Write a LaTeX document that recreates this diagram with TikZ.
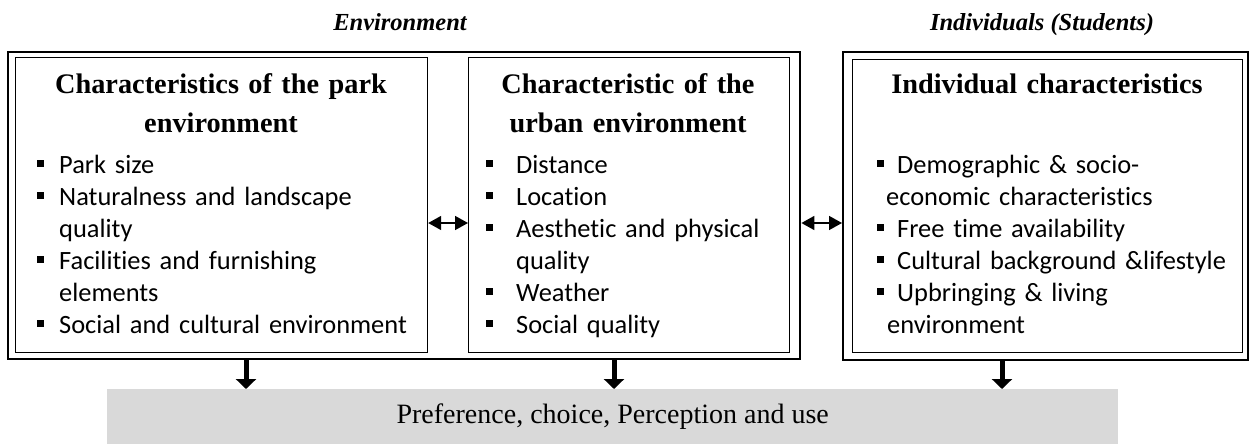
\documentclass[tikz,border=0pt]{standalone}
\usepackage{fontspec}
\setmainfont{Liberation Serif}
\newfontfamily\listfont{Carlito}[Ligatures=NoCommon]
\usetikzlibrary{arrows.meta, positioning}
\definecolor{prefgray}{RGB}{217, 217, 217}
\newcommand{\sqb}{\rule[6pt]{7pt}{7pt}}

\begin{document}
\begin{tikzpicture}[x=1pt, y=-1pt,
    frame/.style={draw, line width=2.4pt, inner sep=0pt, anchor=north west},
    box/.style={draw, line width=1.2pt, inner sep=0pt, anchor=north west},
    head/.style={anchor=base, align=center, inner sep=0pt, font=\fontsize{28.3}{39}\selectfont\bfseries},
    items/.style={anchor=base west, align=left, inner sep=0pt, text width=400pt, font=\fontsize{26.4}{32}\selectfont\listfont},
    group/.style={anchor=base, inner sep=0pt, font=\fontsize{24.5}{28}\selectfont\bfseries\itshape},
    both/.style={{Triangle[length=13pt, width=14pt]}-{Triangle[length=13pt, width=14pt]}, line width=1.6pt},
    down/.style={-{Triangle[length=10pt, width=20pt]}, line width=5pt}]
  \useasboundingbox (0,0) rectangle (1251,445);

  % Environment group
  \node[group] (envlabel) at (400,30) {Environment};
  \node[frame, minimum width=792pt, minimum height=307pt] (env) at (7,51) {};
  \node[box, minimum width=412pt, minimum height=295pt] (park) at (15,57) {};
  \node[box, minimum width=321pt, minimum height=295pt] (urban) at (468,57) {};

  \node[head, text width=410pt] (parkhead) at (221,93) {Characteristics of the park\\environment};
  \node[items] (parklist) at (37,173) {\sqb\hspace{15pt}Park size\\
    \sqb\hspace{15pt}Naturalness and landscape\\
    \hspace*{22pt}quality\\
    \sqb\hspace{15pt}Facilities and furnishing\\
    \hspace*{22pt}elements\\
    \sqb\hspace{15pt}Social and cultural environment};

  \node[head, text width=319pt] (urbanhead) at (628,93) {Characteristic of the\\urban environment};
  \node[items] (urbanlist) at (486,173) {\sqb\hspace{23pt}Distance\\
    \sqb\hspace{23pt}Location\\
    \sqb\hspace{23pt}Aesthetic and physical\\
    \hspace*{30pt}quality\\
    \sqb\hspace{23pt}Weather\\
    \sqb\hspace{23pt}Social quality};

  % Individuals group
  \node[group] (indlabel) at (1042,30) {Individuals (Students)};
  \node[frame, minimum width=405pt, minimum height=308pt] (indiv) at (842,51) {};
  \node[box, minimum width=390pt, minimum height=293pt] (indivin) at (852,59) {};

  \node[head, text width=388pt] (indhead) at (1047,93) {Individual characteristics};
  \node[items] (indlist) at (877,173) {\sqb\hspace{13pt}Demographic \& socio-\\
    \hspace*{9pt}economic characteristics\\
    \sqb\hspace{13pt}Free time availability\\
    \sqb\hspace{13pt}Cultural background \&lifestyle\\
    \sqb\hspace{13pt}Upbringing \& living\\
    \hspace*{10pt}environment};

  % Outcome
  \node[fill=prefgray, minimum width=1011pt, minimum height=55pt, inner sep=0pt, anchor=north west,
        font=\fontsize{28}{32}\selectfont] (pref) at (107,389) {Preference, choice, Perception and use};

  % arrows
  \coordinate (link) at (0,223);
  \draw[both] (park.east |- link) -- (urban.west |- link);
  \draw[both] (env.east |- link) -- (indiv.west |- link);

  \coordinate (drop1) at (246,0);
  \coordinate (drop2) at (614,0);
  \coordinate (drop3) at (1002,0);
  \draw[down] (drop1 |- env.south) -- (drop1 |- pref.north);
  \draw[down] (drop2 |- env.south) -- (drop2 |- pref.north);
  \draw[down] (drop3 |- indiv.south) -- (drop3 |- pref.north);
\end{tikzpicture}
\end{document}
